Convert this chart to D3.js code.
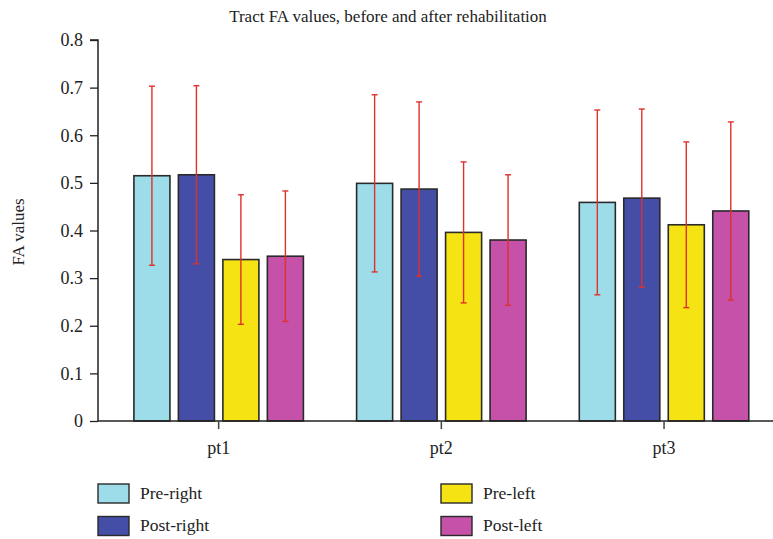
<!DOCTYPE html>
<html>
<head>
<meta charset="utf-8">
<script src="https://cdn.jsdelivr.net/npm/d3@7"></script>
<style>
  html, body { margin: 0; padding: 0; background: #fff; }
  svg text { font-family: "Liberation Serif", "DejaVu Serif", serif; fill: #222; }
</style>
</head>
<body>
<svg id="chart" width="773" height="539"></svg>
<script>
// Patients on the x axis
const patients = ["pt1", "pt2", "pt3"];
// Tract series, in drawing order
const seriesNames = ["Pre-right", "Post-right", "Pre-left", "Post-left"];
const seriesColors = ["#9ddde9", "#454ea6", "#f5e313", "#c551a9"];
// Mean FA per series (one value per patient)
const preRight  = [0.515, 0.499, 0.459];
const postRight = [0.517, 0.487, 0.468];
const preLeft   = [0.339, 0.396, 0.412];
const postLeft  = [0.346, 0.380, 0.441];
// Standard deviation per series (one value per patient)
const preRightSd  = [0.188, 0.186, 0.194];
const postRightSd = [0.187, 0.183, 0.187];
const preLeftSd   = [0.136, 0.148, 0.174];
const postLeftSd  = [0.137, 0.137, 0.187];
const yTicks = [0, 0.1, 0.2, 0.3, 0.4, 0.5, 0.6, 0.7, 0.8];

const means = [preRight, postRight, preLeft, postLeft];
const sds = [preRightSd, postRightSd, preLeftSd, postLeftSd];

const rows = [];
patients.forEach((p, i) => {
  seriesNames.forEach((s, j) => {
    rows.push({ patient: p, series: s, color: seriesColors[j], value: means[j][i], sd: sds[j][i] });
  });
});

const svg = d3.select("#chart");
const axisX = 98, baseY = 421, topY = 40;
const serif = "'Liberation Serif', 'DejaVu Serif', serif";

const y = d3.scaleLinear().domain([0, 0.8]).range([baseY, topY]);
const x0 = d3.scaleBand().domain(patients).range([107.3, 775.4]).padding(0);
const x1 = d3.scaleBand().domain(seriesNames)
  .range([-84.75, 84.75]).paddingInner(0.19).paddingOuter(0);

// Title
svg.append("text")
  .attr("x", 388).attr("y", 22)
  .attr("text-anchor", "middle")
  .style("font-size", "17px")
  .text("Tract FA values, before and after rehabilitation");

// Y axis
const yAxis = d3.axisLeft(y).tickValues(yTicks).tickSize(8).tickPadding(7)
  .tickFormat(d => d === 0 ? "0" : d3.format(".1f")(d));
const gy = svg.append("g").attr("transform", `translate(${axisX},0)`).call(yAxis);
gy.attr("font-family", null).attr("font-size", null);
gy.select(".domain").attr("stroke", "#222").attr("stroke-width", 1.5).attr("d", `M-8,${topY}H0V${baseY}`);
gy.selectAll(".tick line").attr("stroke", "#222").attr("stroke-width", 1.3);
gy.selectAll(".tick text").style("font-size", "18px").style("font-family", serif).attr("fill", "#222");

// Y label
svg.append("text")
  .attr("transform", "translate(24,232) rotate(-90)")
  .attr("text-anchor", "middle")
  .style("font-size", "17px")
  .text("FA values");

// Bars
const bars = svg.append("g");
bars.selectAll("rect").data(rows).join("rect")
  .attr("x", d => x0(d.patient) + x0.bandwidth() / 2 + x1(d.series))
  .attr("y", d => y(d.value))
  .attr("width", x1.bandwidth())
  .attr("height", d => baseY - y(d.value))
  .attr("fill", d => d.color)
  .attr("stroke", "#2a2a2a")
  .attr("stroke-width", 1.6);

// X axis
const xAxis = d3.axisBottom(x0).tickSize(8).tickPadding(12);
const gx = svg.append("g").attr("transform", `translate(0,${baseY})`).call(xAxis);
gx.attr("font-family", null).attr("font-size", null);
gx.select(".domain").attr("stroke", "#222").attr("stroke-width", 1.5).attr("d", `M${axisX},0H773`);
gx.selectAll(".tick line").attr("stroke", "#444").attr("stroke-width", 1.5);
gx.selectAll(".tick text").style("font-size", "18px").style("font-family", serif).attr("fill", "#222");

// Error bars
const err = svg.append("g").attr("stroke", "#e0302a").attr("stroke-width", 1.4);
const cx = d => x0(d.patient) + x0.bandwidth() / 2 + x1(d.series) + x1.bandwidth() / 2;
rows.forEach(d => {
  const g = err.append("g");
  g.append("line").attr("x1", cx(d)).attr("x2", cx(d))
    .attr("y1", y(d.value + d.sd)).attr("y2", y(d.value - d.sd));
  [d.value + d.sd, d.value - d.sd].forEach(v => {
    g.append("line").attr("x1", cx(d) - 3).attr("x2", cx(d) + 3)
      .attr("y1", y(v)).attr("y2", y(v));
  });
});

// Legend
const legendPos = [[98, 484], [98, 516.5], [441, 484], [441, 516.5]];
const legend = svg.append("g");
seriesNames.forEach((s, j) => {
  const [lx, ly] = legendPos[j];
  legend.append("rect").attr("x", lx).attr("y", ly).attr("width", 31).attr("height", 19)
    .attr("fill", seriesColors[j]).attr("stroke", "#2a2a2a").attr("stroke-width", 1.4);
  legend.append("text").attr("x", lx + 42).attr("y", ly + 14.5)
    .style("font-size", "17.5px").text(s);
});
</script>
</body>
</html>
